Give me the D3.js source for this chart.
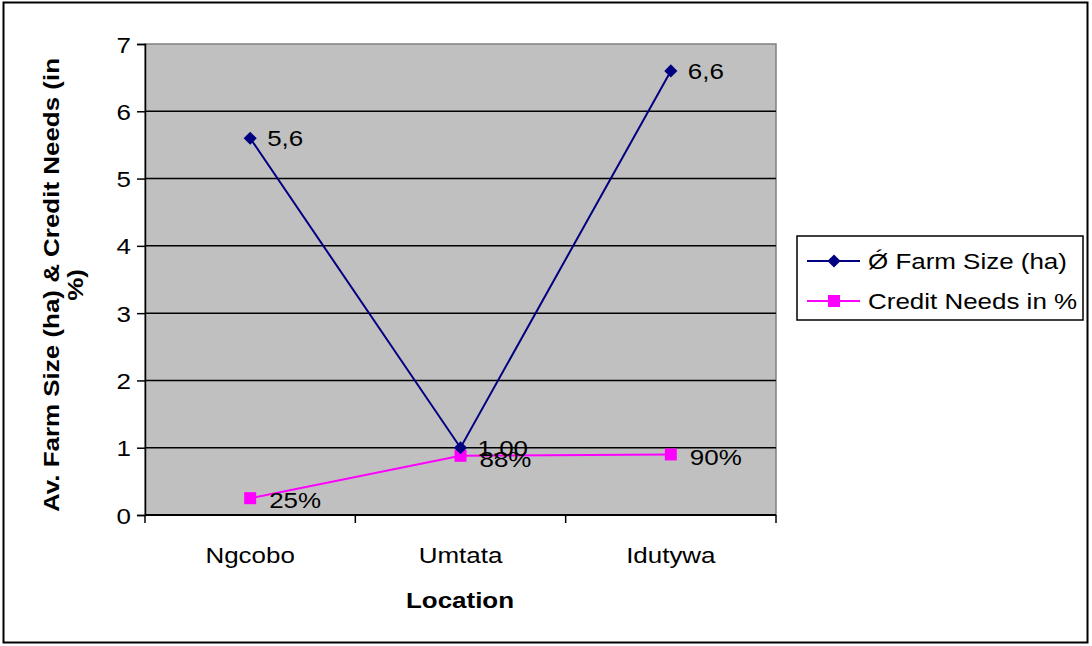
<!DOCTYPE html>
<html>
<head>
<meta charset="utf-8">
<script src="https://cdn.jsdelivr.net/npm/d3@7"></script>
<style>
  html, body { margin: 0; padding: 0; background: #fff; }
  svg { display: block; }
  text { font-family: "Liberation Sans", Arial, sans-serif; fill: #000; }
</style>
</head>
<body>
<svg id="chart" width="1092" height="646"></svg>
<script>
// Locations surveyed
const locations = ["Ngcobo", "Umtata", "Idutywa"];
// Average farm size in hectares
const farmSize = [5.6, 1.00, 6.6];
const farmSizeLabels = ["5,6", "1,00", "6,6"];
// Share of households needing credit (as a fraction)
const creditNeeds = [0.25, 0.88, 0.90];
const creditLabels = ["25%", "88%", "90%"];
// Value axis ticks
const yTicks = [0, 1, 2, 3, 4, 5, 6, 7];

const seriesNames = ["\u01FE Farm Size (ha)", "Credit Needs in %"];
const navy = "#000080";
const magenta = "#FF00FF";
const FS = 22;      // base font size
const SX = 1.18;    // horizontal widening of the lettering

const svg = d3.select("#chart");

// Place a text at (x, y) with widened glyphs
function wide(sel, x, y) {
  sel.attr("transform", function (d, i) {
    const xx = typeof x === "function" ? x(d, i) : x;
    const yy = typeof y === "function" ? y(d, i) : y;
    return `translate(${xx},${yy}) scale(${SX},1)`;
  }).attr("x", 0).attr("y", 0);
  return sel;
}

// Outer frame
svg.append("rect")
  .attr("x", 3.5).attr("y", 2.5).attr("width", 1084).attr("height", 640)
  .attr("fill", "#fff").attr("stroke", "#000").attr("stroke-width", 2);

const plot = { left: 145, top: 44, right: 776, bottom: 515 };

const x = d3.scaleBand().domain(locations).range([plot.left, plot.right]);
const y = d3.scaleLinear().domain([0, 7]).range([plot.bottom, plot.top]);

// Plot background
svg.append("rect")
  .attr("x", plot.left).attr("y", plot.top)
  .attr("width", plot.right - plot.left).attr("height", plot.bottom - plot.top)
  .attr("fill", "#C0C0C0").attr("stroke", "#808080").attr("stroke-width", 1.5);

// Horizontal gridlines
svg.append("g").selectAll("line")
  .data(yTicks.filter(t => t > 0 && t < 7))
  .join("line")
  .attr("x1", plot.left).attr("x2", plot.right)
  .attr("y1", d => y(d)).attr("y2", d => y(d))
  .attr("stroke", "#000").attr("stroke-width", 1.5);

// Y axis
const yAxis = svg.append("g")
  .attr("transform", `translate(${plot.left},0)`)
  .call(d3.axisLeft(y).tickValues(yTicks).tickSize(8).tickPadding(6).tickFormat(d3.format("d")));
yAxis.select(".domain").attr("stroke", "#000").attr("stroke-width", 1.5);
yAxis.selectAll(".tick line").attr("stroke", "#000").attr("stroke-width", 1.5);
yAxis.selectAll(".tick text")
  .attr("font-size", FS).attr("font-family", "Liberation Sans, Arial, sans-serif").attr("fill", "#000")
  .attr("dy", null)
  .each(function () {
    const t = d3.select(this);
    const tx = +t.attr("x");
    t.attr("transform", `translate(${tx},8) scale(${SX},1)`).attr("x", 0);
  });

// X axis: ticks sit on category boundaries
const bounds = locations.map(l => x(l)).concat([plot.right]);
const xAxisG = svg.append("g");
xAxisG.append("line")
  .attr("x1", plot.left).attr("x2", plot.right)
  .attr("y1", plot.bottom).attr("y2", plot.bottom)
  .attr("stroke", "#000").attr("stroke-width", 2);
xAxisG.selectAll("line.tk").data(bounds).join("line")
  .attr("class", "tk")
  .attr("x1", d => d).attr("x2", d => d)
  .attr("y1", plot.bottom).attr("y2", plot.bottom + 8)
  .attr("stroke", "#000").attr("stroke-width", 1.5);
xAxisG.selectAll("text").data(locations).join("text")
  .call(wide, d => x(d) + x.bandwidth() / 2, plot.bottom + 48)
  .attr("text-anchor", "middle")
  .attr("font-size", FS)
  .text(d => d);

// Axis titles
svg.append("text")
  .call(wide, 460, 608)
  .attr("text-anchor", "middle")
  .attr("font-size", FS).attr("font-weight", "bold")
  .text("Location");

const yTitle = svg.append("text")
  .attr("transform", `translate(52,285) rotate(-90) scale(${SX},1)`)
  .attr("text-anchor", "middle")
  .attr("font-size", FS).attr("font-weight", "bold");
yTitle.append("tspan").attr("x", 0).attr("dy", 7).text("Av. Farm Size (ha) & Credit Needs (in");
yTitle.append("tspan").attr("x", 0).attr("dy", 24).text("%)");

const cx = (d, i) => x(locations[i]) + x.bandwidth() / 2;

// Credit needs series
const creditLine = d3.line().x((d, i) => cx(d, i)).y(d => y(d));
svg.append("path")
  .datum(creditNeeds)
  .attr("d", creditLine)
  .attr("fill", "none").attr("stroke", magenta).attr("stroke-width", 2);
svg.append("g").selectAll("rect")
  .data(creditNeeds).join("rect")
  .attr("x", (d, i) => cx(d, i) - 6).attr("y", d => y(d) - 6)
  .attr("width", 12).attr("height", 12)
  .attr("fill", magenta);

// Farm size series
const farmLine = d3.line().x((d, i) => cx(d, i)).y(d => y(d));
svg.append("path")
  .datum(farmSize)
  .attr("d", farmLine)
  .attr("fill", "none").attr("stroke", navy).attr("stroke-width", 2);
const diamond = d3.symbol().type(d3.symbolDiamond2).size(110);
svg.append("g").selectAll("path")
  .data(farmSize).join("path")
  .attr("transform", (d, i) => `translate(${cx(d, i)},${y(d)})`)
  .attr("d", diamond)
  .attr("fill", navy);

// Data labels
svg.append("g").selectAll("text")
  .data(farmSize).join("text")
  .call(wide, (d, i) => cx(d, i) + 17, d => y(d) + 8)
  .attr("font-size", FS)
  .text((d, i) => farmSizeLabels[i]);
svg.append("g").selectAll("text")
  .data(creditNeeds).join("text")
  .call(wide, (d, i) => cx(d, i) + 19, (d, i) => y(d) + (i === 0 ? 10 : 11))
  .attr("font-size", FS)
  .text((d, i) => creditLabels[i]);

// Legend
const legend = svg.append("g");
legend.append("rect")
  .attr("x", 797).attr("y", 236).attr("width", 286).attr("height", 84)
  .attr("fill", "#fff").attr("stroke", "#000").attr("stroke-width", 1.5);
const rows = [
  { name: seriesNames[0], color: navy, marker: "diamond", y: 261 },
  { name: seriesNames[1], color: magenta, marker: "square", y: 301 }
];
rows.forEach(r => {
  legend.append("line")
    .attr("x1", 807).attr("x2", 860).attr("y1", r.y).attr("y2", r.y)
    .attr("stroke", r.color).attr("stroke-width", 2);
  if (r.marker === "diamond") {
    legend.append("path")
      .attr("transform", `translate(834,${r.y})`)
      .attr("d", diamond).attr("fill", r.color);
  } else {
    legend.append("rect")
      .attr("x", 834 - 6).attr("y", r.y - 6).attr("width", 12).attr("height", 12)
      .attr("fill", r.color);
  }
  legend.append("text")
    .call(wide, 868, r.y + 8)
    .attr("font-size", FS)
    .text(r.name);
});
</script>
</body>
</html>
